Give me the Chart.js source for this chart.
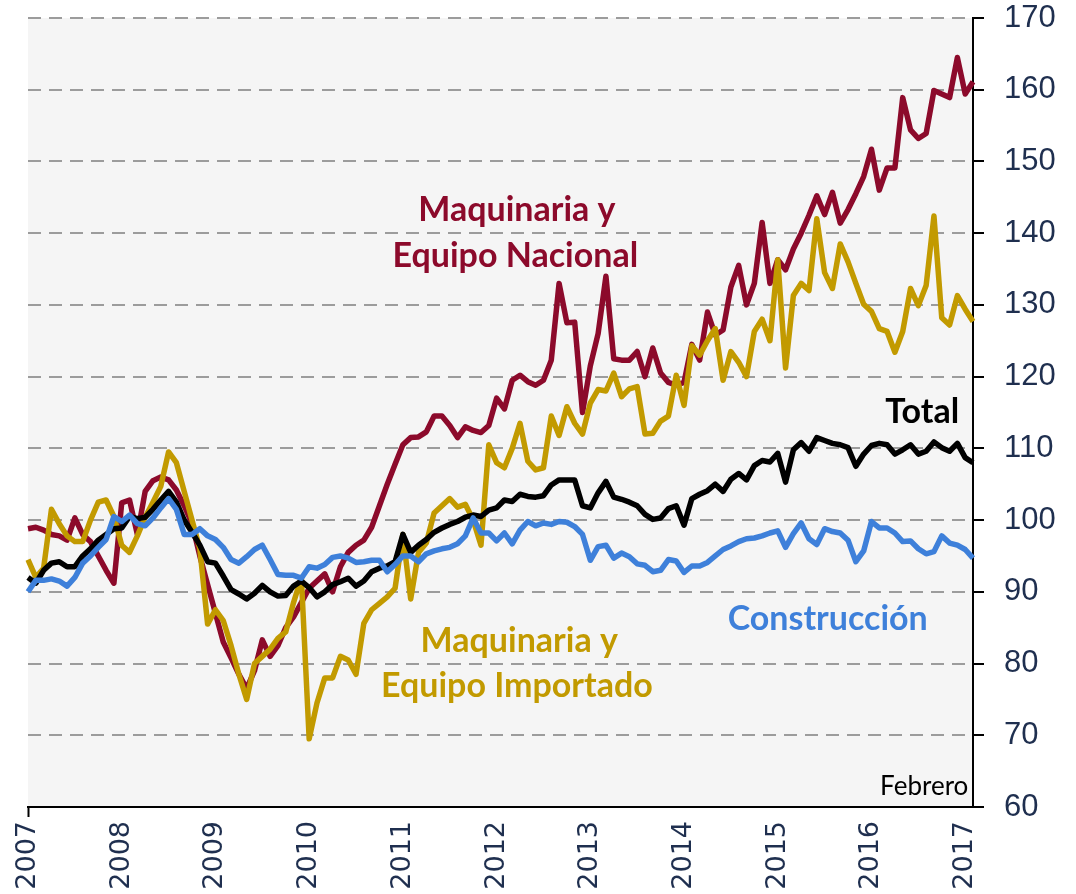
<!DOCTYPE html>
<html>
<head>
<meta charset="utf-8">
<script src="https://cdn.jsdelivr.net/npm/chart.js@4.4.1/dist/chart.umd.min.js"></script>
<style>
  html, body { margin: 0; padding: 0; background: #ffffff; }
  #wrap { width: 1076px; height: 894px; position: relative; }
</style>
</head>
<body>
<div id="wrap"><canvas id="c" width="1076" height="894"></canvas></div>
<script>
// ---- Categories: monthly, January 2007 to February 2017 ----
const years = ['2007','2008','2009','2010','2011','2012','2013','2014','2015','2016','2017'];
const monthCodes = ['01','02','03','04','05','06','07','08','09','10','11','12'];
const months = [];
years.forEach(y => monthCodes.forEach(m => { if (!(y === '2017' && m > '02')) months.push(y + '-' + m); }));

// ---- Y tick labels ----
const yTicks = [60, 70, 80, 90, 100, 110, 120, 130, 140, 150, 160, 170];

// ---- Series values (index) ----
const nacional = [
  98.8, 99, 98.6, 98, 97.8, 97.2, 100.3, 98, 97, 95, 93, 91.2,
  102.4, 102.8, 98, 104, 105.5, 106, 105.6, 104.2, 102, 99.5, 95, 91,
  87, 83, 80.8, 78.5, 76.5, 79, 83.3, 81, 82.5, 85, 86.5, 88.5,
  90.5, 91.5, 92.5, 90, 93.5, 95.5, 96.5, 97.2, 99, 102, 105, 107.8,
  110.5, 111.5, 111.6, 112.3, 114.5, 114.5, 113.2, 111.5, 113, 112.5, 112.2, 113.2,
  117, 115.5, 119.5, 120.2, 119.3, 118.8, 119.5, 122.3, 133, 127.5, 127.6, 115,
  121.5, 126, 134, 122.5, 122.3, 122.3, 123.5, 120, 124, 120.5, 119.2, 118.8,
  119.2, 124.5, 122.3, 129, 125.8, 126.5, 132.5, 135.5, 130, 133, 141.5, 133,
  136.3, 134.9, 137.8, 140, 142.5, 145.2, 142.6, 145.7, 141.4, 143.3, 145.5, 147.9,
  151.7, 146, 149.1, 149.1, 158.9, 154.4, 153.2, 153.9, 159.9, 159.4, 158.9, 164.5,
  159.4, 161.1
];
const importado = [
  94.5, 92, 93.3, 101.5, 99.5, 97.8, 97, 97, 100, 102.5, 102.8, 100.5,
  96.5, 95.5, 97.8, 100.4, 102.5, 104.7, 109.5, 108, 104, 100, 96, 85.5,
  87.5, 86, 82.5, 78.5, 75, 80, 81, 82, 83.5, 84.4, 88.5, 92,
  69.5, 74.5, 78, 78, 81, 80.5, 78.5, 85.6, 87.5, 88.4, 89.3, 90.5,
  98, 89, 95.5, 96.8, 101, 102, 103, 101.8, 102.2, 100, 96.5, 110.5,
  108, 107.3, 110, 113.5, 108.2, 107, 107.3, 114.5, 111.8, 115.8, 113.5, 112,
  116.3, 118.2, 118, 120.5, 117.2, 118.3, 118.6, 112, 112.1, 113.8, 114.5, 120.2,
  116, 124.3, 123, 125, 126.7, 119.5, 123.5, 122, 120, 126.3, 128, 125,
  136.3, 121.2, 131.3, 133, 132, 142, 134.5, 132.3, 138.5, 136, 133, 130.1,
  129.1, 126.7, 126.3, 123.4, 126.3, 132.3, 129.9, 132.7, 142.4, 128.2, 127.2, 131.3,
  129.4, 127.7
];
const total = [
  92, 91.2, 93, 94, 94.2, 93.5, 93.5, 95, 96, 97.2, 98, 98.8,
  98.9, 100.5, 100.2, 100.4, 101.5, 102.8, 104, 102.5, 100, 98.3, 96.5, 94.2,
  94, 92.2, 90.3, 89.7, 89, 89.8, 90.9, 90, 89.4, 89.5, 90.8, 91.5,
  90.6, 89.3, 90, 91, 91.4, 91.9, 90.8, 91.5, 92.8, 93.3, 93.6, 94.2,
  98, 95.5, 96.5, 97.3, 98.3, 98.9, 99.4, 99.8, 100.4, 100.7, 100.5, 101.4,
  101.7, 102.8, 102.6, 103.6, 103.3, 103.2, 103.4, 104.9, 105.6, 105.6, 105.6, 102,
  101.7, 103.8, 105.4, 103.2, 102.9, 102.5, 102, 100.8, 100.1, 100.3, 101.6, 102,
  99.3, 103, 103.6, 104.1, 105, 104, 105.7, 106.5, 105.6, 107.6, 108.3, 108.1,
  109.3, 105.3, 109.8, 110.8, 109.6, 111.5, 111.1, 110.7, 110.5, 110.1, 107.5, 109.2,
  110.4, 110.7, 110.5, 109.2, 109.8, 110.5, 109.2, 109.6, 110.9, 110.1, 109.6, 110.7,
  108.7, 108
];
const construccion = [
  90, 91.6, 91.6, 91.8, 91.5, 90.8, 92, 94, 95, 96.2, 97.3, 100.5,
  99.8, 100.7, 99.5, 99.2, 100.3, 101.7, 103, 101.5, 98, 98, 98.8, 97.8,
  97.3, 96.2, 94.5, 94, 94.9, 95.9, 96.5, 94.5, 92.4, 92.3, 92.3, 91.9,
  93.5, 93.3, 93.8, 94.8, 95, 94.7, 94.1, 94.2, 94.4, 94.4, 92.8, 93.8,
  95, 95, 94.2, 95.3, 95.7, 96, 96.2, 96.7, 97.8, 100.3, 98.2, 98.2,
  97.1, 98.2, 96.7, 98.6, 99.8, 99.2, 99.6, 99.4, 99.8, 99.7, 99.1, 98,
  94.4, 96.3, 96.5, 94.7, 95.4, 94.9, 93.9, 93.7, 92.8, 93, 94.5, 94.3,
  92.7, 93.6, 93.6, 94.1, 95, 95.9, 96.4, 97, 97.4, 97.5, 97.8, 98.2,
  98.5, 96.2, 98.1, 99.6, 97.4, 96.6, 98.8, 98.4, 98.2, 97.2, 94.2, 95.7,
  99.8, 98.9, 98.9, 98.2, 97, 97.1, 96, 95.3, 95.6, 97.8, 96.8, 96.5,
  95.9, 94.7
];

// ---- Styling ----
const COLORS = { nacional: '#8C0A2B', importado: '#C29A00', total: '#000000', construccion: '#3E80DA' };
const AXIS_TEXT = '#1F2F4F';
const LABEL_FONT = 'Lato, "Open Sans", sans-serif';

// Text annotations anchored in data coordinates (category index, value)
const annotations = [
  { text: 'Maquinaria y', idx: 62.6, val: 141.7, color: COLORS.nacional, font: 'bold 34px ' + LABEL_FONT, align: 'center' },
  { text: 'Equipo Nacional', idx: 62.4, val: 135.3, color: COLORS.nacional, font: 'bold 34px ' + LABEL_FONT, align: 'center' },
  { text: 'Total', idx: 114.5, val: 113.5, color: '#000000', font: 'bold 34px ' + LABEL_FONT, align: 'center' },
  { text: 'Construcción', idx: 102.4, val: 84.7, color: COLORS.construccion, font: 'bold 34px ' + LABEL_FONT, align: 'center' },
  { text: 'Maquinaria y', idx: 62.9, val: 81.6, color: COLORS.importado, font: 'bold 34px ' + LABEL_FONT, align: 'center' },
  { text: 'Equipo Importado', idx: 62.6, val: 75.3, color: COLORS.importado, font: 'bold 34px ' + LABEL_FONT, align: 'center' },
  { text: 'Febrero', idx: 120.4, val: 61.7, color: '#000000', font: '26px ' + LABEL_FONT, align: 'right' }
];

const bgPlugin = {
  id: 'plotBg',
  beforeDraw(chart) {
    const { ctx, chartArea: a } = chart;
    ctx.save();
    ctx.fillStyle = '#F5F5F5';
    ctx.fillRect(a.left, a.top, a.right - a.left, a.bottom - a.top);
    ctx.restore();
  }
};
const textPlugin = {
  id: 'seriesText',
  afterDatasetsDraw(chart) {
    const { ctx, scales: { x, y } } = chart;
    ctx.save();
    ctx.textBaseline = 'alphabetic';
    annotations.forEach(a => {
      ctx.font = a.font;
      ctx.fillStyle = a.color;
      ctx.textAlign = a.align;
      ctx.fillText(a.text, x.getPixelForValue(a.idx), y.getPixelForValue(a.val));
    });
    ctx.restore();
  }
};

const isJan = i => months[i] && months[i].endsWith('-01');
const line = (label, data, color) => ({
  label, data, borderColor: color, backgroundColor: color,
  borderWidth: 5.5, pointRadius: 0, pointHoverRadius: 0, tension: 0, fill: false,
  borderJoinStyle: 'round', borderCapStyle: 'butt'
});

new Chart(document.getElementById('c'), {
  type: 'line',
  data: {
    labels: months,
    datasets: [
      line('Maquinaria y Equipo Nacional', nacional, COLORS.nacional),
      line('Maquinaria y Equipo Importado', importado, COLORS.importado),
      line('Total', total, COLORS.total),
      line('Construcción', construccion, COLORS.construccion)
    ].map((d, i, arr) => Object.assign(d, { order: arr.length - i }))
  },
  options: {
    responsive: false,
    animation: false,
    devicePixelRatio: 1,
    layout: { padding: { top: 18, left: 28, right: 0, bottom: 0 } },
    plugins: { legend: { display: false }, tooltip: { enabled: false } },
    scales: {
      x: {
        type: 'category',
        offset: false,
        border: { display: true, color: '#000000', width: 2 },
        grid: {
          drawOnChartArea: false,
          drawTicks: true,
          tickLength: 10,
          tickWidth: 2,
          color: c => isJan(c.index) ? '#000000' : 'rgba(0,0,0,0)',
          tickColor: c => isJan(c.index) ? '#000000' : 'rgba(0,0,0,0)'
        },
        ticks: {
          autoSkip: false,
          maxRotation: 90,
          minRotation: 90,
          padding: 4,
          color: AXIS_TEXT,
          font: { family: '"DejaVu Sans", sans-serif', size: 27 },
          callback: (v, i) => isJan(i) ? months[i].slice(0, 4) : null
        },
        afterFit: s => { s.height = 87; s.paddingLeft = 0; s.paddingRight = 0; }
      },
      y: {
        position: 'right',
        min: yTicks[0],
        max: yTicks[yTicks.length - 1],
        border: { display: true, color: '#000000', width: 2, dash: [13, 8] },
        grid: {
          color: '#9C9C9C',
          lineWidth: 2,
          drawTicks: true,
          tickLength: 11,
          tickWidth: 2,
          tickColor: '#000000',
          tickBorderDash: []
        },
        afterBuildTicks: s => { s.ticks = yTicks.map(v => ({ value: v })); },
        ticks: {
          padding: 20,
          color: AXIS_TEXT,
          font: { family: '"Liberation Sans Narrow", "Liberation Sans", sans-serif', size: 31 },
          callback: v => String(v)
        },
        afterFit: s => { s.width = 103; s.paddingTop = 0; s.paddingBottom = 0; }
      }
    }
  },
  plugins: [bgPlugin, textPlugin]
});
</script>
</body>
</html>
